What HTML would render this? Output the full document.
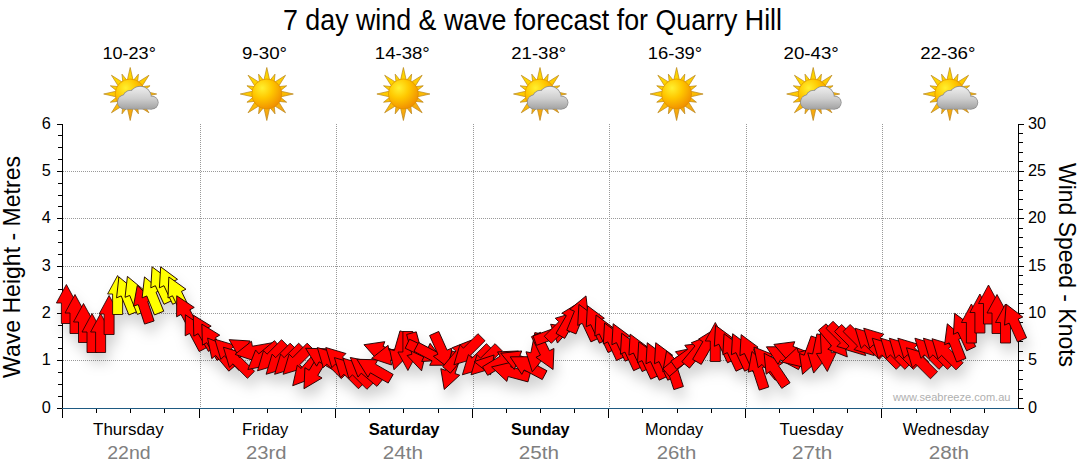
<!DOCTYPE html><html><head><meta charset="utf-8"><style>html,body{margin:0;padding:0;background:#fff;width:1080px;height:475px;overflow:hidden}svg{display:block}text{font-family:"Liberation Sans",sans-serif}</style></head><body>
<svg width="1080" height="475" viewBox="0 0 1080 475">
<defs>
<radialGradient id="sd" cx="0.35" cy="0.3" r="0.75"><stop offset="0" stop-color="#fff030"/><stop offset="0.45" stop-color="#ffc800"/><stop offset="1" stop-color="#f08c00"/></radialGradient>
<linearGradient id="rg" gradientUnits="userSpaceOnUse" x1="-10" y1="-26" x2="10" y2="26"><stop offset="0" stop-color="#ffe000"/><stop offset="0.5" stop-color="#ffc400"/><stop offset="1" stop-color="#f29a18"/></linearGradient>
<linearGradient id="cg" gradientUnits="userSpaceOnUse" x1="0" y1="-7.3" x2="0" y2="14.8"><stop offset="0" stop-color="#eeeeee"/><stop offset="0.55" stop-color="#cdcdcd"/><stop offset="1" stop-color="#a4a4a4"/></linearGradient>
<filter id="sh" x="-20%" y="-50%" width="140%" height="200%"><feGaussianBlur in="SourceAlpha" stdDeviation="6.5"/><feOffset dx="3" dy="10" result="b"/><feFlood flood-color="#000" flood-opacity="0.18"/><feComposite in2="b" operator="in"/></filter>
<path id="ar" d="M0,-19.5 L10,-1 L5,-1 L5,19.5 L-5,19.5 L-5,-1 L-10,-1 Z"/>
<g id="sun">

<path d="M3.30,-12.00L0.00,-26.50L-3.30,-12.00ZM7.18,-10.02L8.23,-19.86L2.01,-12.16ZM10.82,-6.15L18.74,-18.74L6.15,-10.82ZM12.16,-2.01L19.86,-8.23L10.02,-7.18ZM12.00,3.30L26.50,-0.00L12.00,-3.30ZM10.02,7.18L19.86,8.23L12.16,2.01ZM6.15,10.82L18.74,18.74L10.82,6.15ZM2.01,12.16L8.23,19.86L7.18,10.02ZM-3.30,12.00L0.00,26.50L3.30,12.00ZM-7.18,10.02L-8.23,19.86L-2.01,12.16ZM-10.82,6.15L-18.74,18.74L-6.15,10.82ZM-12.16,2.01L-19.86,8.23L-10.02,7.18ZM-12.00,-3.30L-26.50,0.00L-12.00,3.30ZM-10.02,-7.18L-19.86,-8.23L-12.16,-2.01ZM-6.15,-10.82L-18.74,-18.74L-10.82,-6.15ZM-2.01,-12.16L-8.23,-19.86L-7.18,-10.02Z" fill="url(#rg)" stroke="#b8841a" stroke-width="0.7"/>
<circle r="15" fill="url(#sd)" stroke="#d88a00" stroke-width="0.6"/>
</g>
<g id="cloud"><g fill="#8c8c8c"><circle cx="-5.6" cy="8" r="7.5"/><circle cx="0.5" cy="4.5" r="8.5"/><circle cx="10" cy="3.4" r="11.4"/><circle cx="21.5" cy="8.6" r="6.9"/><rect x="-5.6" y="8" width="27.1" height="7.5"/></g><g fill="url(#cg)"><circle cx="-5.6" cy="8" r="6.8"/><circle cx="0.5" cy="4.5" r="7.8"/><circle cx="10" cy="3.4" r="10.7"/><circle cx="21.5" cy="8.6" r="6.2"/><rect x="-5.6" y="8" width="27.1" height="6.8"/></g></g>
</defs>
<text x="283" y="30" font-size="28.6" textLength="499" lengthAdjust="spacingAndGlyphs" fill="#000">7 day wind &amp; wave forecast for Quarry Hill</text>
<text x="102.4" y="58.7" font-size="16.3" textLength="53.5" lengthAdjust="spacingAndGlyphs" fill="#000">10-23°</text>
<use href="#sun" x="130.2" y="94"/>
<use href="#cloud" x="130.2" y="94"/>
<text x="242.1" y="58.7" font-size="16.3" textLength="45.0" lengthAdjust="spacingAndGlyphs" fill="#000">9-30°</text>
<use href="#sun" x="266.8" y="94"/>
<text x="374.8" y="58.7" font-size="16.3" textLength="55.0" lengthAdjust="spacingAndGlyphs" fill="#000">14-38°</text>
<use href="#sun" x="403.4" y="94"/>
<text x="511.3" y="58.7" font-size="16.3" textLength="54.9" lengthAdjust="spacingAndGlyphs" fill="#000">21-38°</text>
<use href="#sun" x="540.0" y="94"/>
<use href="#cloud" x="540.0" y="94"/>
<text x="647.8" y="58.7" font-size="16.3" textLength="54.4" lengthAdjust="spacingAndGlyphs" fill="#000">16-39°</text>
<use href="#sun" x="676.6" y="94"/>
<text x="783.5" y="58.7" font-size="16.3" textLength="55.3" lengthAdjust="spacingAndGlyphs" fill="#000">20-43°</text>
<use href="#sun" x="813.2" y="94"/>
<use href="#cloud" x="813.2" y="94"/>
<text x="920.2" y="58.7" font-size="16.3" textLength="55.3" lengthAdjust="spacingAndGlyphs" fill="#000">22-36°</text>
<use href="#sun" x="949.8" y="94"/>
<use href="#cloud" x="949.8" y="94"/>
<path d="M63,171.5H1018M63,218.5H1018M63,266.5H1018M63,313.5H1018M63,360.5H1018M200.5,124V407M336.5,124V407M473.5,124V407M609.5,124V407M746.5,124V407M882.5,124V407" stroke="#999" stroke-width="1" stroke-dasharray="1 1" fill="none"/>
<path d="M62.5,124V418M1018.5,124V409" stroke="#000" stroke-width="1" fill="none"/>
<path d="M62,408.5H1018" stroke="#1e5a82" stroke-width="1" fill="none"/>
<path d="M57,124.5H62M58,135.5H62M58,147.5H62M58,159.5H62M57,171.5H62M58,183.5H62M58,195.5H62M58,206.5H62M57,218.5H62M58,230.5H62M58,242.5H62M58,254.5H62M57,266.5H62M58,277.5H62M58,289.5H62M58,301.5H62M57,313.5H62M58,325.5H62M58,337.5H62M58,348.5H62M57,360.5H62M58,372.5H62M58,384.5H62M58,396.5H62M57,408.5H62M1019,124.5H1024M1019,133.5H1023M1019,142.5H1023M1019,152.5H1023M1019,161.5H1023M1019,171.5H1024M1019,180.5H1023M1019,190.5H1023M1019,199.5H1023M1019,209.5H1023M1019,218.5H1024M1019,228.5H1023M1019,237.5H1023M1019,247.5H1023M1019,256.5H1023M1019,266.5H1024M1019,275.5H1023M1019,284.5H1023M1019,294.5H1023M1019,303.5H1023M1019,313.5H1024M1019,322.5H1023M1019,332.5H1023M1019,341.5H1023M1019,351.5H1023M1019,360.5H1024M1019,370.5H1023M1019,379.5H1023M1019,389.5H1023M1019,398.5H1023M1019,408.5H1024M96.5,409V413M130.5,409V413M164.5,409V413M199.5,409V418M233.5,409V413M267.5,409V413M301.5,409V413M335.5,409V418M369.5,409V413M403.5,409V413M438.5,409V413M472.5,409V418M506.5,409V413M540.5,409V413M574.5,409V413M608.5,409V418M642.5,409V413M677.5,409V413M711.5,409V413M745.5,409V418M779.5,409V413M813.5,409V413M847.5,409V413M881.5,409V418M916.5,409V413M950.5,409V413M984.5,409V413" stroke="#000" stroke-width="1" fill="none"/>
<text x="50.8" y="412.6" font-size="16.3" text-anchor="end" fill="#000">0</text>
<text x="50.8" y="365.3" font-size="16.3" text-anchor="end" fill="#000">1</text>
<text x="50.8" y="317.9" font-size="16.3" text-anchor="end" fill="#000">2</text>
<text x="50.8" y="270.6" font-size="16.3" text-anchor="end" fill="#000">3</text>
<text x="50.8" y="223.3" font-size="16.3" text-anchor="end" fill="#000">4</text>
<text x="50.8" y="175.9" font-size="16.3" text-anchor="end" fill="#000">5</text>
<text x="50.8" y="128.6" font-size="16.3" text-anchor="end" fill="#000">6</text>
<text x="1028" y="412.6" font-size="16.3" fill="#000">0</text>
<text x="1028" y="365.3" font-size="16.3" fill="#000">5</text>
<text x="1028" y="317.9" font-size="16.3" fill="#000">10</text>
<text x="1028" y="270.6" font-size="16.3" fill="#000">15</text>
<text x="1028" y="223.3" font-size="16.3" fill="#000">20</text>
<text x="1028" y="175.9" font-size="16.3" fill="#000">25</text>
<text x="1028" y="128.6" font-size="16.3" fill="#000">30</text>
<text transform="translate(20.3,378) rotate(-90)" font-size="24" textLength="222" lengthAdjust="spacingAndGlyphs" fill="#000">Wave Height - Metres</text>
<text transform="translate(1059,163) rotate(90)" font-size="24" textLength="204" lengthAdjust="spacingAndGlyphs" fill="#000">Wind Speed - Knots</text>
<text x="93.1" y="435" font-size="16.3" textLength="70.6" lengthAdjust="spacingAndGlyphs" fill="#000">Thursday</text>
<text x="107.2" y="459" font-size="18" textLength="43.4" lengthAdjust="spacingAndGlyphs" fill="#808080">22nd</text>
<text x="242.1" y="435" font-size="16.3" textLength="46.2" lengthAdjust="spacingAndGlyphs" fill="#000">Friday</text>
<text x="246.1" y="459" font-size="18" textLength="40.5" lengthAdjust="spacingAndGlyphs" fill="#808080">23rd</text>
<text x="368.7" y="435" font-size="16.3" font-weight="bold" textLength="70.9" lengthAdjust="spacingAndGlyphs" fill="#000">Saturday</text>
<text x="382.7" y="459" font-size="18" textLength="40.2" lengthAdjust="spacingAndGlyphs" fill="#808080">24th</text>
<text x="511.1" y="435" font-size="16.3" font-weight="bold" textLength="58.5" lengthAdjust="spacingAndGlyphs" fill="#000">Sunday</text>
<text x="518.7" y="459" font-size="18" textLength="40.2" lengthAdjust="spacingAndGlyphs" fill="#808080">25th</text>
<text x="645.1" y="435" font-size="16.3" textLength="58.2" lengthAdjust="spacingAndGlyphs" fill="#000">Monday</text>
<text x="656.7" y="459" font-size="18" textLength="39.6" lengthAdjust="spacingAndGlyphs" fill="#808080">26th</text>
<text x="779.4" y="435" font-size="16.3" textLength="63.9" lengthAdjust="spacingAndGlyphs" fill="#000">Tuesday</text>
<text x="792.1" y="459" font-size="18" textLength="40.2" lengthAdjust="spacingAndGlyphs" fill="#808080">27th</text>
<text x="902.7" y="435" font-size="16.3" textLength="86.2" lengthAdjust="spacingAndGlyphs" fill="#000">Wednesday</text>
<text x="928.7" y="459" font-size="18" textLength="40.2" lengthAdjust="spacingAndGlyphs" fill="#808080">28th</text>
<text x="893" y="400.6" font-size="11" textLength="117.5" lengthAdjust="spacingAndGlyphs" fill="#b0b0b0">www.seabreeze.com.au</text>
<g filter="url(#sh)"><use href="#ar" transform="translate(66.4,304.0)"/><use href="#ar" transform="translate(75.0,314.0)"/><use href="#ar" transform="translate(83.5,323.0)"/><use href="#ar" transform="translate(92.0,333.0)"/><use href="#ar" transform="translate(100.6,333.0)"/><use href="#ar" transform="translate(109.1,315.0)"/><use href="#ar" transform="translate(117.6,295.0)"/><use href="#ar" transform="translate(126.2,295.0) rotate(-22)"/><use href="#ar" transform="translate(134.7,294.5) rotate(-22)"/><use href="#ar" transform="translate(143.3,304.0) rotate(-18)"/><use href="#ar" transform="translate(151.8,295.0) rotate(-22)"/><use href="#ar" transform="translate(160.3,284.5) rotate(-25)"/><use href="#ar" transform="translate(168.9,284.5) rotate(-25)"/><use href="#ar" transform="translate(177.4,294.5) rotate(-26)"/><use href="#ar" transform="translate(185.9,313.0) rotate(-28)"/><use href="#ar" transform="translate(194.5,332.0) rotate(-28)"/><use href="#ar" transform="translate(203.0,332.0) rotate(-30)"/><use href="#ar" transform="translate(211.6,341.0) rotate(-30)"/><use href="#ar" transform="translate(220.1,353.0) rotate(-40)"/><use href="#ar" transform="translate(228.6,353.0) rotate(-45)"/><use href="#ar" transform="translate(237.2,361.0) rotate(-45)"/><use href="#ar" transform="translate(245.7,350.0) rotate(-58)"/><use href="#ar" transform="translate(254.2,351.0) rotate(-100)"/><use href="#ar" transform="translate(262.8,357.0) rotate(-130)"/><use href="#ar" transform="translate(271.3,357.0) rotate(-135)"/><use href="#ar" transform="translate(279.9,360.5) rotate(-135)"/><use href="#ar" transform="translate(288.4,360.5) rotate(-135)"/><use href="#ar" transform="translate(296.9,360.5) rotate(-135)"/><use href="#ar" transform="translate(305.5,371.0) rotate(-139)"/><use href="#ar" transform="translate(314.0,372.0) rotate(-149)"/><use href="#ar" transform="translate(322.5,358.0) rotate(-60)"/><use href="#ar" transform="translate(331.1,361.3) rotate(-45)"/><use href="#ar" transform="translate(339.6,361.3) rotate(-45)"/><use href="#ar" transform="translate(348.2,371.4) rotate(-45)"/><use href="#ar" transform="translate(356.7,372.0) rotate(-45)"/><use href="#ar" transform="translate(365.2,370.0) rotate(-50)"/><use href="#ar" transform="translate(373.8,369.0) rotate(-60)"/><use href="#ar" transform="translate(382.3,351.4) rotate(-70)"/><use href="#ar" transform="translate(390.8,355.0) rotate(-100)"/><use href="#ar" transform="translate(399.4,351.0) rotate(-164)"/><use href="#ar" transform="translate(407.9,351.0) rotate(180)"/><use href="#ar" transform="translate(416.5,352.0) rotate(165)"/><use href="#ar" transform="translate(425.0,352.0) rotate(115)"/><use href="#ar" transform="translate(433.5,356.0) rotate(118)"/><use href="#ar" transform="translate(442.1,351.3) rotate(156)"/><use href="#ar" transform="translate(450.6,371.0) rotate(-161)"/><use href="#ar" transform="translate(459.1,355.0) rotate(40)"/><use href="#ar" transform="translate(467.7,351.0) rotate(-135)"/><use href="#ar" transform="translate(476.2,361.0) rotate(-135)"/><use href="#ar" transform="translate(484.8,361.0) rotate(-135)"/><use href="#ar" transform="translate(493.3,365.0) rotate(-80)"/><use href="#ar" transform="translate(501.8,361.0) rotate(59)"/><use href="#ar" transform="translate(510.4,372.0) rotate(-75)"/><use href="#ar" transform="translate(518.9,360.6) rotate(-68)"/><use href="#ar" transform="translate(527.4,366.0) rotate(-62)"/><use href="#ar" transform="translate(536.0,352.7) rotate(-169)"/><use href="#ar" transform="translate(544.5,352.0) rotate(154)"/><use href="#ar" transform="translate(553.1,334.0) rotate(70)"/><use href="#ar" transform="translate(561.6,326.0) rotate(45)"/><use href="#ar" transform="translate(570.1,319.0) rotate(30)"/><use href="#ar" transform="translate(578.7,314.0) rotate(22)"/><use href="#ar" transform="translate(587.2,322.1) rotate(-25)"/><use href="#ar" transform="translate(595.7,323.4) rotate(-25)"/><use href="#ar" transform="translate(604.3,332.7) rotate(-25)"/><use href="#ar" transform="translate(612.8,340.7) rotate(-25)"/><use href="#ar" transform="translate(621.4,341.4) rotate(-25)"/><use href="#ar" transform="translate(629.9,350.9) rotate(-25)"/><use href="#ar" transform="translate(638.4,351.8) rotate(-25)"/><use href="#ar" transform="translate(647.0,359.4) rotate(-25)"/><use href="#ar" transform="translate(655.5,360.4) rotate(-25)"/><use href="#ar" transform="translate(664.0,360.4) rotate(-25)"/><use href="#ar" transform="translate(672.6,369.5) rotate(-18)"/><use href="#ar" transform="translate(681.1,360.0) rotate(50)"/><use href="#ar" transform="translate(689.7,354.0) rotate(55)"/><use href="#ar" transform="translate(698.2,350.0) rotate(40)"/><use href="#ar" transform="translate(706.7,345.0) rotate(30)"/><use href="#ar" transform="translate(715.3,342.0)"/><use href="#ar" transform="translate(723.8,343.0) rotate(-25)"/><use href="#ar" transform="translate(732.3,351.4) rotate(-25)"/><use href="#ar" transform="translate(740.9,351.4) rotate(-25)"/><use href="#ar" transform="translate(749.4,352.3) rotate(-25)"/><use href="#ar" transform="translate(758.0,370.0) rotate(-18)"/><use href="#ar" transform="translate(766.5,362.0) rotate(-40)"/><use href="#ar" transform="translate(775.0,369.4) rotate(-34)"/><use href="#ar" transform="translate(783.6,356.0) rotate(-62)"/><use href="#ar" transform="translate(792.1,351.4) rotate(-69)"/><use href="#ar" transform="translate(800.6,357.0) rotate(-105)"/><use href="#ar" transform="translate(809.2,356.0) rotate(-160)"/><use href="#ar" transform="translate(817.7,354.0) rotate(-168)"/><use href="#ar" transform="translate(826.3,352.0) rotate(177)"/><use href="#ar" transform="translate(834.8,342.0) rotate(140)"/><use href="#ar" transform="translate(843.3,338.6) rotate(135)"/><use href="#ar" transform="translate(851.9,341.8) rotate(135)"/><use href="#ar" transform="translate(860.4,341.8) rotate(135)"/><use href="#ar" transform="translate(868.9,342.0) rotate(-45)"/><use href="#ar" transform="translate(877.5,342.0) rotate(-45)"/><use href="#ar" transform="translate(886.0,352.0) rotate(-45)"/><use href="#ar" transform="translate(894.6,352.0) rotate(-45)"/><use href="#ar" transform="translate(903.1,352.0) rotate(-45)"/><use href="#ar" transform="translate(911.6,352.0) rotate(-45)"/><use href="#ar" transform="translate(920.2,361.5) rotate(-45)"/><use href="#ar" transform="translate(928.7,352.0) rotate(-45)"/><use href="#ar" transform="translate(937.2,352.0) rotate(-45)"/><use href="#ar" transform="translate(945.8,352.5) rotate(-45)"/><use href="#ar" transform="translate(954.3,342.0) rotate(-21)"/><use href="#ar" transform="translate(962.9,331.0) rotate(-25)"/><use href="#ar" transform="translate(971.4,323.5)"/><use href="#ar" transform="translate(979.9,313.5)"/><use href="#ar" transform="translate(988.5,304.5)"/><use href="#ar" transform="translate(997.0,314.0)"/><use href="#ar" transform="translate(1005.5,323.5)"/><use href="#ar" transform="translate(1014.1,322.0) rotate(-24)"/></g>
<g stroke="#200000" stroke-width="0.85" stroke-linejoin="miter"><use href="#ar" transform="translate(66.4,304.0)" fill="#ff0000"/><use href="#ar" transform="translate(75.0,314.0)" fill="#ff0000"/><use href="#ar" transform="translate(83.5,323.0)" fill="#ff0000"/><use href="#ar" transform="translate(92.0,333.0)" fill="#ff0000"/><use href="#ar" transform="translate(100.6,333.0)" fill="#ff0000"/><use href="#ar" transform="translate(109.1,315.0)" fill="#ff0000"/><use href="#ar" transform="translate(117.6,295.0)" fill="#ffff00"/><use href="#ar" transform="translate(126.2,295.0) rotate(-22)" fill="#ffff00"/><use href="#ar" transform="translate(134.7,294.5) rotate(-22)" fill="#ffff00"/><use href="#ar" transform="translate(143.3,304.0) rotate(-18)" fill="#ff0000"/><use href="#ar" transform="translate(151.8,295.0) rotate(-22)" fill="#ffff00"/><use href="#ar" transform="translate(160.3,284.5) rotate(-25)" fill="#ffff00"/><use href="#ar" transform="translate(168.9,284.5) rotate(-25)" fill="#ffff00"/><use href="#ar" transform="translate(177.4,294.5) rotate(-26)" fill="#ffff00"/><use href="#ar" transform="translate(185.9,313.0) rotate(-28)" fill="#ff0000"/><use href="#ar" transform="translate(194.5,332.0) rotate(-28)" fill="#ff0000"/><use href="#ar" transform="translate(203.0,332.0) rotate(-30)" fill="#ff0000"/><use href="#ar" transform="translate(211.6,341.0) rotate(-30)" fill="#ff0000"/><use href="#ar" transform="translate(220.1,353.0) rotate(-40)" fill="#ff0000"/><use href="#ar" transform="translate(228.6,353.0) rotate(-45)" fill="#ff0000"/><use href="#ar" transform="translate(237.2,361.0) rotate(-45)" fill="#ff0000"/><use href="#ar" transform="translate(245.7,350.0) rotate(-58)" fill="#ff0000"/><use href="#ar" transform="translate(254.2,351.0) rotate(-100)" fill="#ff0000"/><use href="#ar" transform="translate(262.8,357.0) rotate(-130)" fill="#ff0000"/><use href="#ar" transform="translate(271.3,357.0) rotate(-135)" fill="#ff0000"/><use href="#ar" transform="translate(279.9,360.5) rotate(-135)" fill="#ff0000"/><use href="#ar" transform="translate(288.4,360.5) rotate(-135)" fill="#ff0000"/><use href="#ar" transform="translate(296.9,360.5) rotate(-135)" fill="#ff0000"/><use href="#ar" transform="translate(305.5,371.0) rotate(-139)" fill="#ff0000"/><use href="#ar" transform="translate(314.0,372.0) rotate(-149)" fill="#ff0000"/><use href="#ar" transform="translate(322.5,358.0) rotate(-60)" fill="#ff0000"/><use href="#ar" transform="translate(331.1,361.3) rotate(-45)" fill="#ff0000"/><use href="#ar" transform="translate(339.6,361.3) rotate(-45)" fill="#ff0000"/><use href="#ar" transform="translate(348.2,371.4) rotate(-45)" fill="#ff0000"/><use href="#ar" transform="translate(356.7,372.0) rotate(-45)" fill="#ff0000"/><use href="#ar" transform="translate(365.2,370.0) rotate(-50)" fill="#ff0000"/><use href="#ar" transform="translate(373.8,369.0) rotate(-60)" fill="#ff0000"/><use href="#ar" transform="translate(382.3,351.4) rotate(-70)" fill="#ff0000"/><use href="#ar" transform="translate(390.8,355.0) rotate(-100)" fill="#ff0000"/><use href="#ar" transform="translate(399.4,351.0) rotate(-164)" fill="#ff0000"/><use href="#ar" transform="translate(407.9,351.0) rotate(180)" fill="#ff0000"/><use href="#ar" transform="translate(416.5,352.0) rotate(165)" fill="#ff0000"/><use href="#ar" transform="translate(425.0,352.0) rotate(115)" fill="#ff0000"/><use href="#ar" transform="translate(433.5,356.0) rotate(118)" fill="#ff0000"/><use href="#ar" transform="translate(442.1,351.3) rotate(156)" fill="#ff0000"/><use href="#ar" transform="translate(450.6,371.0) rotate(-161)" fill="#ff0000"/><use href="#ar" transform="translate(459.1,355.0) rotate(40)" fill="#ff0000"/><use href="#ar" transform="translate(467.7,351.0) rotate(-135)" fill="#ff0000"/><use href="#ar" transform="translate(476.2,361.0) rotate(-135)" fill="#ff0000"/><use href="#ar" transform="translate(484.8,361.0) rotate(-135)" fill="#ff0000"/><use href="#ar" transform="translate(493.3,365.0) rotate(-80)" fill="#ff0000"/><use href="#ar" transform="translate(501.8,361.0) rotate(59)" fill="#ff0000"/><use href="#ar" transform="translate(510.4,372.0) rotate(-75)" fill="#ff0000"/><use href="#ar" transform="translate(518.9,360.6) rotate(-68)" fill="#ff0000"/><use href="#ar" transform="translate(527.4,366.0) rotate(-62)" fill="#ff0000"/><use href="#ar" transform="translate(536.0,352.7) rotate(-169)" fill="#ff0000"/><use href="#ar" transform="translate(544.5,352.0) rotate(154)" fill="#ff0000"/><use href="#ar" transform="translate(553.1,334.0) rotate(70)" fill="#ff0000"/><use href="#ar" transform="translate(561.6,326.0) rotate(45)" fill="#ff0000"/><use href="#ar" transform="translate(570.1,319.0) rotate(30)" fill="#ff0000"/><use href="#ar" transform="translate(578.7,314.0) rotate(22)" fill="#ff0000"/><use href="#ar" transform="translate(587.2,322.1) rotate(-25)" fill="#ff0000"/><use href="#ar" transform="translate(595.7,323.4) rotate(-25)" fill="#ff0000"/><use href="#ar" transform="translate(604.3,332.7) rotate(-25)" fill="#ff0000"/><use href="#ar" transform="translate(612.8,340.7) rotate(-25)" fill="#ff0000"/><use href="#ar" transform="translate(621.4,341.4) rotate(-25)" fill="#ff0000"/><use href="#ar" transform="translate(629.9,350.9) rotate(-25)" fill="#ff0000"/><use href="#ar" transform="translate(638.4,351.8) rotate(-25)" fill="#ff0000"/><use href="#ar" transform="translate(647.0,359.4) rotate(-25)" fill="#ff0000"/><use href="#ar" transform="translate(655.5,360.4) rotate(-25)" fill="#ff0000"/><use href="#ar" transform="translate(664.0,360.4) rotate(-25)" fill="#ff0000"/><use href="#ar" transform="translate(672.6,369.5) rotate(-18)" fill="#ff0000"/><use href="#ar" transform="translate(681.1,360.0) rotate(50)" fill="#ff0000"/><use href="#ar" transform="translate(689.7,354.0) rotate(55)" fill="#ff0000"/><use href="#ar" transform="translate(698.2,350.0) rotate(40)" fill="#ff0000"/><use href="#ar" transform="translate(706.7,345.0) rotate(30)" fill="#ff0000"/><use href="#ar" transform="translate(715.3,342.0)" fill="#ff0000"/><use href="#ar" transform="translate(723.8,343.0) rotate(-25)" fill="#ff0000"/><use href="#ar" transform="translate(732.3,351.4) rotate(-25)" fill="#ff0000"/><use href="#ar" transform="translate(740.9,351.4) rotate(-25)" fill="#ff0000"/><use href="#ar" transform="translate(749.4,352.3) rotate(-25)" fill="#ff0000"/><use href="#ar" transform="translate(758.0,370.0) rotate(-18)" fill="#ff0000"/><use href="#ar" transform="translate(766.5,362.0) rotate(-40)" fill="#ff0000"/><use href="#ar" transform="translate(775.0,369.4) rotate(-34)" fill="#ff0000"/><use href="#ar" transform="translate(783.6,356.0) rotate(-62)" fill="#ff0000"/><use href="#ar" transform="translate(792.1,351.4) rotate(-69)" fill="#ff0000"/><use href="#ar" transform="translate(800.6,357.0) rotate(-105)" fill="#ff0000"/><use href="#ar" transform="translate(809.2,356.0) rotate(-160)" fill="#ff0000"/><use href="#ar" transform="translate(817.7,354.0) rotate(-168)" fill="#ff0000"/><use href="#ar" transform="translate(826.3,352.0) rotate(177)" fill="#ff0000"/><use href="#ar" transform="translate(834.8,342.0) rotate(140)" fill="#ff0000"/><use href="#ar" transform="translate(843.3,338.6) rotate(135)" fill="#ff0000"/><use href="#ar" transform="translate(851.9,341.8) rotate(135)" fill="#ff0000"/><use href="#ar" transform="translate(860.4,341.8) rotate(135)" fill="#ff0000"/><use href="#ar" transform="translate(868.9,342.0) rotate(-45)" fill="#ff0000"/><use href="#ar" transform="translate(877.5,342.0) rotate(-45)" fill="#ff0000"/><use href="#ar" transform="translate(886.0,352.0) rotate(-45)" fill="#ff0000"/><use href="#ar" transform="translate(894.6,352.0) rotate(-45)" fill="#ff0000"/><use href="#ar" transform="translate(903.1,352.0) rotate(-45)" fill="#ff0000"/><use href="#ar" transform="translate(911.6,352.0) rotate(-45)" fill="#ff0000"/><use href="#ar" transform="translate(920.2,361.5) rotate(-45)" fill="#ff0000"/><use href="#ar" transform="translate(928.7,352.0) rotate(-45)" fill="#ff0000"/><use href="#ar" transform="translate(937.2,352.0) rotate(-45)" fill="#ff0000"/><use href="#ar" transform="translate(945.8,352.5) rotate(-45)" fill="#ff0000"/><use href="#ar" transform="translate(954.3,342.0) rotate(-21)" fill="#ff0000"/><use href="#ar" transform="translate(962.9,331.0) rotate(-25)" fill="#ff0000"/><use href="#ar" transform="translate(971.4,323.5)" fill="#ff0000"/><use href="#ar" transform="translate(979.9,313.5)" fill="#ff0000"/><use href="#ar" transform="translate(988.5,304.5)" fill="#ff0000"/><use href="#ar" transform="translate(997.0,314.0)" fill="#ff0000"/><use href="#ar" transform="translate(1005.5,323.5)" fill="#ff0000"/><use href="#ar" transform="translate(1014.1,322.0) rotate(-24)" fill="#ff0000"/></g>
</svg></body></html>
